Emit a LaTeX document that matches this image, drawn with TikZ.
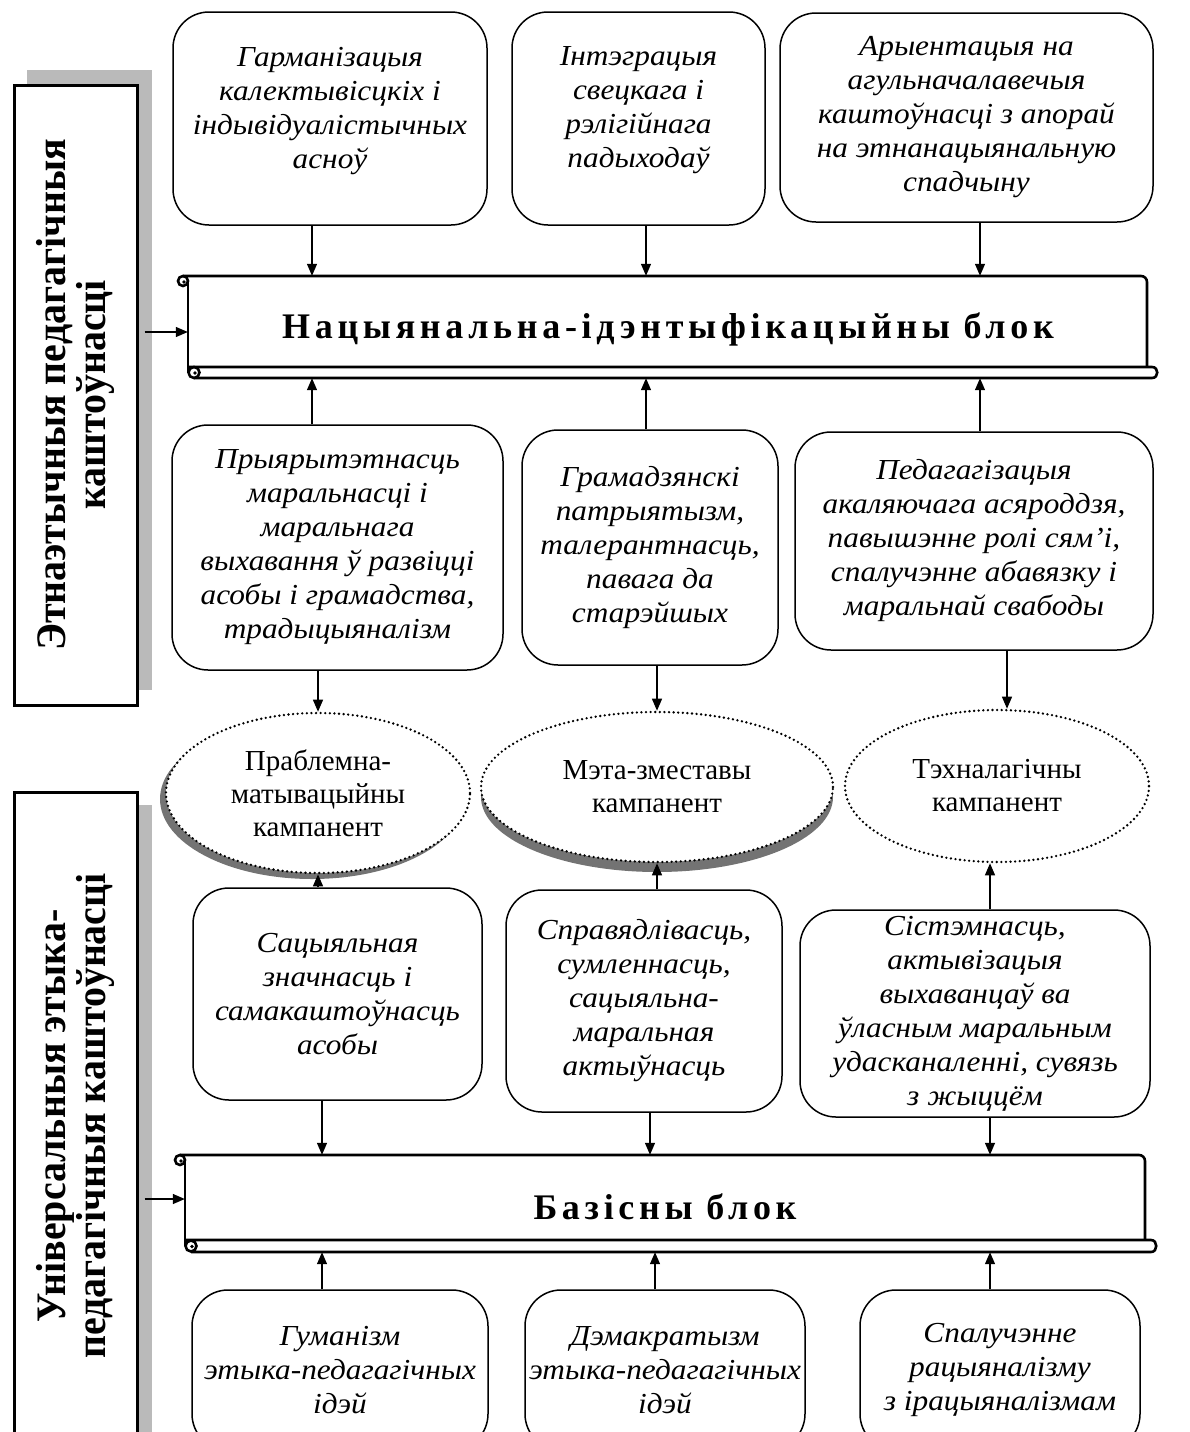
\documentclass[tikz,border=0pt]{standalone}
\usepackage{fontspec}
\setmainfont{Liberation Serif}
\newfontfamily\itf[FakeStretch=1.08]{Liberation Serif}
\newfontfamily\ttlf[LetterSpace=13]{Liberation Serif}
\newfontfamily\sidef[FakeStretch=0.95]{Liberation Serif}
\usetikzlibrary{arrows.meta,calc,shapes.geometric}
\begin{document}
\begin{tikzpicture}[x=1pt,y=-1pt,
  every node/.style={inner sep=0pt},
  rbox/.style={draw, line width=1.5pt, rounded corners=36pt, align=center, font=\itf\itshape\fontsize{29}{34}\selectfont},
  ell/.style={ellipse, draw, fill=white, line width=2.6pt, dash pattern=on 0pt off 4.6pt, line cap=round, align=center, font=\fontsize{29}{33}\selectfont},
  sidebox/.style={draw, line width=3pt, fill=white, align=center, font=\sidef\bfseries\fontsize{42}{40}\selectfont},
  arr/.style={line width=1.3pt, -{Triangle[length=12pt,width=10pt]}},
  scrl/.style={line width=2.6pt},
  ttl/.style={font=\ttlf\bfseries\fontsize{36}{40}\selectfont},
  shade/.style={fill=black!27},
  eshade/.style={fill=black!55},
]
\useasboundingbox (0,0) rectangle (1189,1432);
\clip (0,0) rectangle (1189,1432);

% helper x / y positions for connectors
\coordinate (xa) at (312,0);
\coordinate (xb) at (646,0);
\coordinate (xc) at (980,0);
\coordinate (xf) at (1007,0);
\coordinate (xg) at (990,0);
\coordinate (xh) at (322,0);
\coordinate (xi) at (650,0);
\coordinate (xj) at (655,0);
\coordinate (ya) at (0,332);
\coordinate (yb) at (0,1199);

% side boxes
\fill[shade] (27,70) rectangle (152,690);
\node[sidebox, rotate=90, minimum width=620pt, minimum height=123pt] (sb1) at (75.5,395) {Этнаэтычныя педагагічныя\\каштоўнасці};
\fill[shade] (28,805) rectangle (152,1445);
\node[sidebox, rotate=90, minimum width=648pt, minimum height=123pt] (sb2) at (75.5,1116) {Універсальныя этыка-\\педагагічныя каштоўнасці};

% top row
\node[rbox, text depth=22pt, minimum width=314pt, minimum height=213pt] (t1) at (330,118.5) {Гарманізацыя\\калектывісцкіх і\\індывідуалістычных\\асноў};
\node[rbox, text depth=22pt, minimum width=253pt, minimum height=213pt] (t2) at (638.5,118.5) {Інтэграцыя\\свецкага і\\рэлігійнага\\падыходаў};
\node[rbox, minimum width=373pt, minimum height=209pt] (t3) at (966.5,117.5) {Арыентацыя на\\агульначалавечыя\\каштоўнасці з апорай\\на этнанацыянальную\\спадчыну};

% scroll 1
\node[minimum width=964pt, minimum height=102pt] (s1) at (670,327) {};
\draw[scrl, rounded corners=6pt] (183,276) -- (1147,276) -- (1147,367);
\draw[scrl] (188,281) -- (188,373);
\draw[scrl] (183,281) circle[radius=5pt];
\fill (184,282) circle[radius=1.8pt];
\draw[scrl] (188,367) -- (1152,367) .. controls (1159,367) and (1159,378) .. (1152,378) -- (194,378);
\draw[scrl, fill=white] (194,372.5) circle[radius=5.5pt];
\fill (195,373) circle[radius=1.8pt];
\node[ttl] (s1t) at (668,329) {Нацыянальна-ідэнтыфікацыйны блок};

% middle row
\node[rbox, minimum width=331pt, minimum height=245pt] (m1) at (337.5,547.5) {Прыярытэтнасць\\маральнасці і\\маральнага\\выхавання ў развіцці\\асобы і грамадства,\\традыцыяналізм};
\node[rbox, minimum width=256pt, minimum height=235pt] (m2) at (650,547.5) {Грамадзянскі\\патрыятызм,\\талерантнасць,\\павага да\\старэйшых};
\node[rbox, minimum width=358pt, minimum height=218pt] (m3) at (974,541) {Педагагізацыя\\акаляючага асяроддзя,\\павышэнне ролі сям’і,\\спалучэнне абавязку і\\маральнай свабоды};

% ellipses
\fill[eshade] (312,799) ellipse[x radius=152pt, y radius=80pt];
\node[ell, minimum width=304pt, minimum height=160pt] (e1) at (318,793) {Праблемна-\\матывацыйны\\кампанент};
\fill[eshade] (657,797) ellipse[x radius=176pt, y radius=75pt];
\node[ell, minimum width=352pt, minimum height=150pt] (e2) at (657,787) {Мэта-зместавы\\кампанент};
\node[ell, minimum width=304pt, minimum height=152pt] (e3) at (997,786) {Тэхналагічны\\кампанент};

% lower row
\node[rbox, minimum width=289pt, minimum height=212pt] (l1) at (337.5,994) {Сацыяльная\\значнасць і\\самакаштоўнасць\\асобы};
\node[rbox, minimum width=276pt, minimum height=222pt] (l2) at (644,1001) {Справядлівасць,\\сумленнасць,\\сацыяльна-\\маральная\\актыўнасць};
\node[rbox, minimum width=350pt, minimum height=207pt] (l3) at (975,1013.5) {Сістэмнасць,\\актывізацыя\\выхаванцаў ва\\ўласным маральным\\удасканаленні, сувязь\\з жыццём};

% scroll 2
\node[minimum width=966pt, minimum height=97pt] (s2) at (668,1203.5) {};
\draw[scrl, rounded corners=6pt] (180,1155) -- (1145,1155) -- (1145,1240);
\draw[scrl] (185,1160) -- (185,1246);
\draw[scrl] (180,1160) circle[radius=5pt];
\fill (181,1161) circle[radius=1.8pt];
\draw[scrl] (185,1240) -- (1151,1240) .. controls (1158,1240) and (1158,1252) .. (1151,1252) -- (191,1252);
\draw[scrl, fill=white] (191,1246) circle[radius=5.5pt];
\fill (192,1246.5) circle[radius=1.8pt];
\node[ttl] (s2t) at (665,1207) {Базісны блок};

% bottom row
\node[rbox, minimum width=296pt, minimum height=160pt] (b1) at (340,1370) {Гуманізм\\этыка-педагагічных\\ідэй};
\node[rbox, minimum width=280pt, minimum height=160pt] (b2) at (665,1370) {Дэмакратызм\\этыка-педагагічных\\ідэй};
\node[rbox, minimum width=280pt, minimum height=160pt] (b3) at (1000,1370) {Спалучэнне\\рацыяналізму\\з ірацыяналізмам};

% connectors
\draw[arr] (t1.south -| xa) -- (s1.north -| xa);
\draw[arr] (t2.south -| xb) -- (s1.north -| xb);
\draw[arr] (t3.south -| xc) -- (s1.north -| xc);
\draw[arr] (m1.north -| xa) -- (s1.south -| xa);
\draw[arr] (m2.north -| xb) -- (s1.south -| xb);
\draw[arr] (m3.north -| xc) -- (s1.south -| xc);
\draw[arr] (m1.south -| e1.north) -- (e1.north);
\draw[arr] (m2.south -| e2.north) -- (e2.north);
\draw[arr] (m3.south -| xf) -- (e3.north -| xf);
\draw[arr] (l1.north -| e1.south) -- (e1.south);
\draw[arr] (l2.north -| e2.south) -- (e2.south);
\draw[arr] (l3.north -| xg) -- (e3.south -| xg);
\draw[arr] (l1.south -| xh) -- (s2.north -| xh);
\draw[arr] (l2.south -| xi) -- (s2.north -| xi);
\draw[arr] (l3.south -| xg) -- (s2.north -| xg);
\draw[arr] (b1.north -| xh) -- (s2.south -| xh);
\draw[arr] (b2.north -| xj) -- (s2.south -| xj);
\draw[arr] (b3.north -| xg) -- (s2.south -| xg);
\draw[arr, shorten <=6pt] (sb1.south |- ya) -- (s1.west |- ya);
\draw[arr, shorten <=6pt] (sb2.south |- yb) -- (s2.west |- yb);
\end{tikzpicture}
\end{document}
